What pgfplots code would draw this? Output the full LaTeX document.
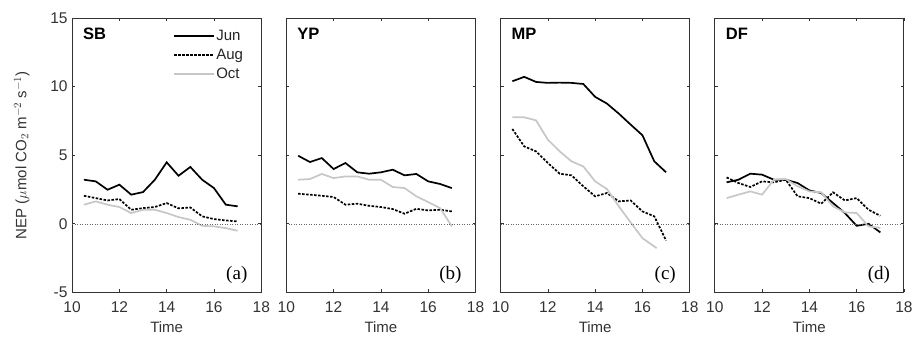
\documentclass[border=0pt]{standalone}
\usepackage{pgfplots}
\pgfplotsset{compat=1.18}
\usepgfplotslibrary{groupplots}
\usepackage{fontspec}
\setmainfont{Liberation Sans}
\newfontfamily\seriffont{Liberation Serif}
\definecolor{octgray}{gray}{0.78}
\pgfplotsset{
  jun/.style={black, line width=1.7pt},
  aug/.style={black, line width=1.7pt, dash pattern=on 2.5pt off 1.5pt},
  oct/.style={octgray, line width=1.7pt},
}
\begin{document}
\begin{tikzpicture}
\begin{groupplot}[
  group style={group size=4 by 1, horizontal sep=25pt, y descriptions at=edge left},
  scale only axis, width=189pt, height=274pt,
  xmin=10, xmax=18, ymin=-5, ymax=15,
  xtick={10,12,14,16,18}, ytick={-5,0,5,10,15},
  tick align=inside, tick pos=both,
  major tick length=3pt,
  axis line style={line width=1pt, black!80},
  tick style={black!80, line width=0.6pt},
  /pgf/number format/assume math mode=true,
  tick label style={font=\fontsize{15.5}{15.5}\selectfont, text=black!80},
  yticklabel style={xshift=-1pt},
  xticklabel style={yshift=-6pt},
  xlabel={Time},
  xlabel style={font=\fontsize{15}{15}\selectfont, text=black!80, yshift=-2pt},
  ylabel style={font=\fontsize{15}{15}\selectfont, text=black!80, yshift=14pt},
  clip=false,
]
% ---------------- SB ----------------
\nextgroupplot[
  ylabel={NEP ($\mu$mol CO$_2$ m$^{-2}$ s$^{-1}$)},
  legend style={draw=none, fill=none, at={(0.915,0.963)}, anchor=north east,
    font=\fontsize{15}{15}\selectfont, row sep=5pt, inner sep=1pt,
    nodes={inner sep=1pt, text=black!85}},
  legend cell align=left,
  legend image code/.code={\draw[#1, line width=1.7pt] (0pt,0pt) -- (40pt,0pt);},
]
\addplot[jun] coordinates {(10.5,3.21)(11,3.09)(11.5,2.48)(12,2.85)(12.5,2.12)(13,2.31)(13.5,3.21)(14,4.48)(14.5,3.50)(15,4.14)(15.5,3.21)(16,2.60)(16.5,1.39)(17,1.27)};
\addplot[aug] coordinates {(10.5,2.04)(11,1.87)(11.5,1.70)(12,1.80)(12.5,1.02)(13,1.14)(13.5,1.22)(14,1.51)(14.5,1.12)(15,1.19)(15.5,0.54)(16,0.34)(16.5,0.24)(17,0.17)};
\addplot[oct] coordinates {(10.5,1.39)(11,1.63)(11.5,1.39)(12,1.22)(12.5,0.78)(13,1.02)(13.5,1.02)(14,0.78)(14.5,0.49)(15,0.29)(15.5,-0.15)(16,-0.19)(16.5,-0.32)(17,-0.51)};
\legend{Jun,Aug,Oct}
\draw[black!60, line width=0.5pt, dotted] (axis cs:10,0) -- (axis cs:18,0);
\node[anchor=north west, font=\bfseries\fontsize{16.5}{16.5}\selectfont] at (rel axis cs:0.04,0.975) {SB};
\node[anchor=south east, font=\seriffont\fontsize{19}{19}\selectfont] at (rel axis cs:0.945,0.02) {(a)};
% ---------------- YP ----------------
\nextgroupplot
\addplot[jun] coordinates {(10.5,4.96)(11,4.50)(11.5,4.79)(12,3.99)(12.5,4.43)(13,3.75)(13.5,3.65)(14,3.75)(14.5,3.94)(15,3.53)(15.5,3.63)(16,3.09)(16.5,2.90)(17,2.60)};
\addplot[aug] coordinates {(10.5,2.19)(11,2.12)(11.5,2.04)(12,1.95)(12.5,1.39)(13,1.46)(13.5,1.31)(14,1.22)(14.5,1.07)(15,0.73)(15.5,1.09)(16,0.97)(16.5,1.02)(17,0.90)};
\addplot[oct] coordinates {(10.5,3.21)(11,3.26)(11.5,3.63)(12,3.33)(12.5,3.45)(13,3.45)(13.5,3.21)(14,3.21)(14.5,2.68)(15,2.60)(15.5,2.00)(16,1.58)(16.5,1.14)(17,-0.19)};
\draw[black!60, line width=0.5pt, dotted] (axis cs:10,0) -- (axis cs:18,0);
\node[anchor=north west, font=\bfseries\fontsize{16.5}{16.5}\selectfont] at (rel axis cs:0.04,0.975) {YP};
\node[anchor=south east, font=\seriffont\fontsize{19}{19}\selectfont] at (rel axis cs:0.945,0.02) {(b)};
% ---------------- MP ----------------
\nextgroupplot
\addplot[jun] coordinates {(10.5,10.39)(11,10.71)(11.5,10.34)(12,10.27)(12.5,10.29)(13,10.27)(13.5,10.19)(14,9.25)(14.5,8.76)(15,8.03)(15.5,7.23)(16,6.45)(16.5,4.55)(17,3.75)};
\addplot[aug] coordinates {(10.5,6.91)(11,5.64)(11.5,5.28)(12,4.43)(12.5,3.65)(13,3.53)(13.5,2.73)(14,2.00)(14.5,2.24)(15,1.63)(15.5,1.70)(16,0.90)(16.5,0.54)(17,-1.22)};
\addplot[oct] coordinates {(10.5,7.76)(11,7.76)(11.5,7.54)(12,6.13)(12.5,5.28)(13,4.55)(13.5,4.18)(14,3.09)(14.5,2.53)(15,1.27)(15.5,0.10)(16,-1.05)(16.6,-1.78)};
\draw[black!60, line width=0.5pt, dotted] (axis cs:10,0) -- (axis cs:18,0);
\node[anchor=north west, font=\bfseries\fontsize{16.5}{16.5}\selectfont] at (rel axis cs:0.04,0.975) {MP};
\node[anchor=south east, font=\seriffont\fontsize{19}{19}\selectfont] at (rel axis cs:0.945,0.02) {(c)};
% ---------------- DF ----------------
\nextgroupplot
\addplot[jun] coordinates {(10.5,3.02)(11,3.21)(11.5,3.65)(12,3.58)(12.5,3.21)(13,3.21)(13.5,2.97)(14,2.43)(14.5,2.24)(15,1.51)(15.5,0.78)(16,-0.15)(16.5,0.00)(17,-0.63)};
\addplot[aug] coordinates {(10.5,3.38)(11,2.97)(11.5,2.68)(12,3.09)(12.5,3.02)(13,3.21)(13.5,2.00)(14,1.87)(14.5,1.46)(15,2.29)(15.5,1.70)(16,1.87)(16.5,1.02)(17,0.58)};
\addplot[oct] coordinates {(10.5,1.87)(11,2.12)(11.5,2.36)(12,2.12)(12.5,3.21)(13,3.26)(13.5,2.73)(14,2.36)(14.5,2.29)(15,1.27)(15.5,0.83)(16,0.78)(16.5,-0.19)(17,-0.30)};
\draw[black!60, line width=0.5pt, dotted] (axis cs:10,0) -- (axis cs:18,0);
\node[anchor=north west, font=\bfseries\fontsize{16.5}{16.5}\selectfont] at (rel axis cs:0.04,0.975) {DF};
\node[anchor=south east, font=\seriffont\fontsize{19}{19}\selectfont] at (rel axis cs:0.945,0.02) {(d)};
\end{groupplot}
\pgfresetboundingbox
\path[use as bounding box] ([xshift=-72pt,yshift=-53pt]group c1r1.south west) rectangle ([xshift=14pt,yshift=18pt]group c4r1.north east);
\end{tikzpicture}
\end{document}
